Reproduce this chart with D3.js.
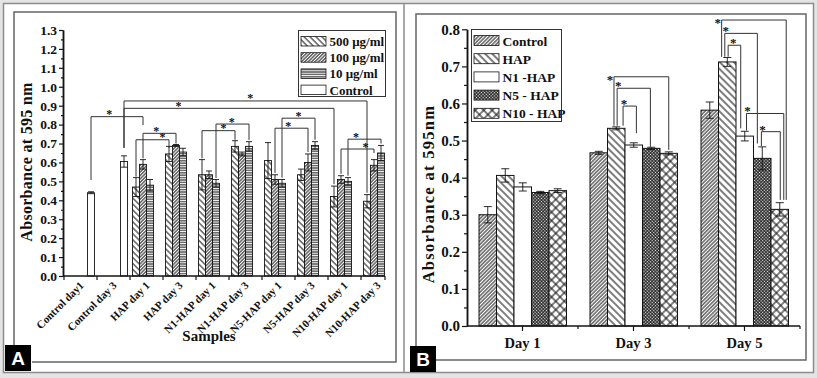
<!DOCTYPE html>
<html><head><meta charset="utf-8">
<script src="https://cdn.jsdelivr.net/npm/d3@7"></script>
<style>body{margin:0;background:#fff}text{font-family:"Liberation Serif","Times New Roman",serif;font-weight:bold;fill:#111}</style>
</head><body>
<svg id="c" width="817" height="378"></svg>
<script>
// ---------- Panel A data ----------
const catsA = ["Control day1","Control day 3","HAP day 1","HAP day 3","N1-HAP day 1","N1-HAP day 3","N5-HAP day 1","N5-HAP day 3","N10-HAP day 1","N10-HAP day 3"];
const seriesA = ["500 μg/ml","100 μg/ml","10 μg/ml","Control"];
const valsA500 = [null,null,0.47,0.645,0.535,0.685,0.61,0.535,0.42,0.395];
const errA500  = [0,0,0.05,0.04,0.08,0.03,0.095,0.03,0.055,0.035];
const valsA100 = [null,null,0.59,0.69,0.535,0.645,0.51,0.60,0.51,0.585];
const errA100  = [0,0,0.025,0.005,0.02,0.01,0.025,0.045,0.02,0.03];
const valsA10  = [null,null,0.48,0.655,0.49,0.685,0.49,0.69,0.50,0.65];
const errA10   = [0,0,0.03,0.02,0.02,0.025,0.02,0.02,0.02,0.04];
const valsACtrl = [0.44,0.605,null,null,null,null,null,null,null,null];
const errACtrl  = [0.005,0.03,0,0,0,0,0,0,0,0];
const ticksA = [0,0.1,0.2,0.3,0.4,0.5,0.6,0.7,0.8,0.9,1.0,1.1,1.2,1.3];
// significance brackets: from cat/series -> to cat/series, left end, level, right end, star fraction
const bracketsA = [
  ["Control day1","Control","HAP day 1","100 μg/ml",0.507,0.842,0.798,0.35],
  ["Control day 3","Control","N10-HAP day 3","500 μg/ml",0.677,0.925,0.44,0.52],
  ["Control day 3","Control","N10-HAP day 1","500 μg/ml",0.677,0.886,0.485,0.26],
  ["HAP day 1","100 μg/ml","HAP day 3","100 μg/ml",0.622,0.754,0.70,0.40],
  ["HAP day 1","500 μg/ml","HAP day 3","500 μg/ml",0.525,0.72,0.677,0.80],
  ["N1-HAP day 1","10 μg/ml","N1-HAP day 3","10 μg/ml",0.518,0.803,0.719,0.48],
  ["N1-HAP day 1","500 μg/ml","N1-HAP day 3","500 μg/ml",0.622,0.768,0.72,0.65],
  ["N5-HAP day 1","10 μg/ml","N5-HAP day 3","10 μg/ml",0.52,0.834,0.72,0.50],
  ["N5-HAP day 1","100 μg/ml","N5-HAP day 3","100 μg/ml",0.545,0.781,0.655,0.40],
  ["N10-HAP day 1","10 μg/ml","N10-HAP day 3","10 μg/ml",0.53,0.723,0.70,0.24],
  ["N10-HAP day 1","100 μg/ml","N10-HAP day 3","100 μg/ml",0.54,0.671,0.65,0.74]
];

// ---------- Panel B data ----------
const daysB = ["Day 1","Day 3","Day 5"];
const seriesB = ["Control","HAP","N1 -HAP","N5 - HAP","N10 - HAP"];
const valsBCtrl = [0.30,0.467,0.582];
const errBCtrl  = [0.022,0.004,0.022];
const valsBHAP  = [0.406,0.533,0.712];
const errBHAP   = [0.018,0.004,0.012];
const valsBN1   = [0.375,0.488,0.512];
const errBN1    = [0.011,0.006,0.013];
const valsBN5   = [0.36,0.479,0.452];
const errBN5    = [0.003,0.003,0.031];
const valsBN10  = [0.365,0.4655,0.3145];
const errBN10   = [0.005,0.004,0.018];
const ticksB = [0,0.1,0.2,0.3,0.4,0.5,0.6,0.7,0.8];
// day, from series, from fraction in bar, to series, to fraction, left end, level, right end, star placement
const bracketsB = [
  ["Day 3","HAP",0.37,"N10 - HAP",0.5,0.54,0.672,0.475,"left"],
  ["Day 3","HAP",0.55,"N5 - HAP",0.45,0.54,0.641,0.483,"top"],
  ["Day 3","HAP",0.89,"N1 -HAP",0.65,0.54,0.593,0.52,"top"],
  ["Day 5","HAP",0.18,"N10 - HAP",0.87,0.726,0.825,0.34,"left"],
  ["Day 5","HAP",0.36,"N5 - HAP",0.22,0.726,0.789,0.492,"top"],
  ["Day 5","HAP",0.55,"N1 -HAP",0.27,0.726,0.757,0.533,"right"],
  ["Day 5","N1 -HAP",0.6,"N10 - HAP",0.73,0.527,0.573,0.34,"top"],
  ["Day 5","N5 - HAP",0.45,"N10 - HAP",0.53,0.485,0.524,0.34,"top"]
];

// ---------- drawing ----------
const svg = d3.select("#c");
const ink = "#141414";
const defs = svg.append("defs");
function linePattern(id, spacing, angle, sw, cross){
  const p = defs.append("pattern").attr("id",id).attr("patternUnits","userSpaceOnUse")
    .attr("width",spacing).attr("height",spacing).attr("patternTransform",`rotate(${angle})`);
  p.append("rect").attr("width",spacing).attr("height",spacing).attr("fill","#fff");
  p.append("line").attr("x1",0).attr("y1",-1).attr("x2",0).attr("y2",spacing+1).attr("stroke",ink).attr("stroke-width",sw);
  p.append("line").attr("x1",spacing).attr("y1",-1).attr("x2",spacing).attr("y2",spacing+1).attr("stroke",ink).attr("stroke-width",sw);
  if(cross){
    p.append("line").attr("x1",-1).attr("y1",0).attr("x2",spacing+1).attr("y2",0).attr("stroke",ink).attr("stroke-width",sw);
    p.append("line").attr("x1",-1).attr("y1",spacing).attr("x2",spacing+1).attr("y2",spacing).attr("stroke",ink).attr("stroke-width",sw);
  }
}
linePattern("pA500",4.2,-45,1.0,false);
linePattern("pA100",2.4,45,1.0,false);
linePattern("pA10",2.4,90,1.0,false);
linePattern("pBctrl",2.6,45,1.0,false);
linePattern("pBhap",5.0,-45,1.1,false);
linePattern("pBn5",2.3,45,1.0,true);
linePattern("pBn10",6.0,45,1.1,true);
const fillA = {"500 μg/ml":"url(#pA500)","100 μg/ml":"url(#pA100)","10 μg/ml":"url(#pA10)","Control":"#fff"};
const fillB = {"Control":"url(#pBctrl)","HAP":"url(#pBhap)","N1 -HAP":"#fff","N5 - HAP":"url(#pBn5)","N10 - HAP":"url(#pBn10)"};

// background & frames
svg.append("rect").attr("width",817).attr("height",378).attr("fill","#e4e4e4");
svg.append("rect").attr("x",3.5).attr("y",3.5).attr("width",810).attr("height",369).attr("fill","#fff").attr("stroke","#8c8c8c").attr("stroke-width",1.5);
svg.append("line").attr("x1",404).attr("x2",404).attr("y1",3.5).attr("y2",372.5).attr("stroke","#8c8c8c").attr("stroke-width",1.5);
svg.append("path").attr("d","M14,345V12H396V362H32").attr("fill","none").attr("stroke","#666").attr("stroke-width",1.5);
svg.append("path").attr("d","M416,346V14H806V360H434").attr("fill","none").attr("stroke","#666").attr("stroke-width",1.5);
[[5,345,"A"],[410,346,"B"]].forEach(([x,y,t])=>{
  svg.append("rect").attr("x",x).attr("y",y).attr("width",26).attr("height",26).attr("fill","#000");
  svg.append("text").attr("x",x+13).attr("y",y+20).attr("text-anchor","middle")
    .style("font-family","Liberation Sans, Arial, sans-serif").style("font-size","19px").style("fill","#fff").text(t);
});

// ===== Panel A =====
const yA = d3.scaleLinear().domain([0,1.3]).range([276,30]);
const xA = d3.scaleBand().domain(catsA).range([64,394]);
const xSubA = d3.scaleBand().domain(seriesA).range([2.5,30.5]);
const gA = svg.append("g");
const rowsA = [];
const seriesValsA = [[valsA500,errA500],[valsA100,errA100],[valsA10,errA10],[valsACtrl,errACtrl]];
seriesA.forEach((s,si)=>catsA.forEach((c,ci)=>{
  const v = seriesValsA[si][0][ci];
  if(v!=null) rowsA.push({c,s,v,e:seriesValsA[si][1][ci]});
}));
gA.selectAll("rect.bar").data(rowsA).join("rect").attr("class","bar")
  .attr("x",d=>xA(d.c)+xSubA(d.s)).attr("width",xSubA.bandwidth())
  .attr("y",d=>yA(d.v)).attr("height",d=>yA(0)-yA(d.v))
  .attr("fill",d=>fillA[d.s]).attr("stroke",ink).attr("stroke-width",0.9);
const errG = gA.selectAll("g.err").data(rowsA).join("g").attr("stroke",ink).attr("stroke-width",0.9);
errG.append("line").attr("x1",d=>xA(d.c)+xSubA(d.s)+xSubA.bandwidth()/2).attr("x2",d=>xA(d.c)+xSubA(d.s)+xSubA.bandwidth()/2)
  .attr("y1",d=>yA(d.v-d.e)).attr("y2",d=>yA(d.v+d.e));
[1,-1].forEach(sg=>errG.append("line")
  .attr("x1",d=>xA(d.c)+xSubA(d.s)+xSubA.bandwidth()/2-3).attr("x2",d=>xA(d.c)+xSubA(d.s)+xSubA.bandwidth()/2+3)
  .attr("y1",d=>yA(d.v+sg*d.e)).attr("y2",d=>yA(d.v+sg*d.e)));
// axes A
const axA = gA.append("g").attr("transform","translate(63,0)")
  .call(d3.axisLeft(yA).tickValues(ticksA).tickFormat(d3.format(".1f")).tickSize(4).tickSizeOuter(0).tickPadding(2));
gA.append("g").attr("transform","translate(63,0)")
  .call(d3.axisLeft(yA).tickValues(ticksA.slice(1).map(t=>t-0.05)).tickFormat("").tickSize(2).tickSizeOuter(0));
gA.selectAll(".domain").attr("stroke",ink).attr("stroke-width",1.5);
gA.selectAll(".tick line").attr("stroke",ink).attr("stroke-width",1.2);
axA.selectAll("text").style("font-size","13.5px").style("font-family","Liberation Serif").style("font-weight","bold");
gA.append("line").attr("x1",63).attr("x2",385).attr("y1",yA(0)).attr("y2",yA(0)).attr("stroke",ink).attr("stroke-width",1.5);
const bndA = catsA.map(c=>xA(c)).concat([385]);
gA.selectAll("line.xt").data(bndA).join("line").attr("x1",d=>d).attr("x2",d=>d)
  .attr("y1",yA(0)).attr("y2",yA(0)+4).attr("stroke",ink).attr("stroke-width",1.2);
gA.selectAll("text.xl").data(catsA).join("text")
  .attr("transform",d=>`translate(${xA(d)+xA.bandwidth()/2+4},${yA(0)+10}) rotate(-45)`)
  .attr("text-anchor","end").style("font-size","11px").text(d=>d);
gA.append("text").attr("x",209).attr("y",341).attr("text-anchor","middle").style("font-size","15px").text("Samples");
gA.append("text").attr("transform","translate(32,162) rotate(-90)").attr("text-anchor","middle")
  .style("font-size","16px").style("letter-spacing","0.3px").text("Absorbance at 595 nm");
// brackets A
const bxA = (c,s)=>xA(c)+xSubA(s)+xSubA.bandwidth()/2;
const brA = gA.selectAll("g.br").data(bracketsA).join("g");
brA.append("path").attr("fill","none").attr("stroke","#333").attr("stroke-width",1)
  .attr("d",d=>`M${bxA(d[0],d[1])},${yA(d[4])}V${yA(d[5])}H${bxA(d[2],d[3])}V${yA(d[6])}`);
brA.append("text").attr("text-anchor","middle").style("font-size","12px")
  .attr("x",d=>bxA(d[0],d[1])+(bxA(d[2],d[3])-bxA(d[0],d[1]))*d[7]).attr("y",d=>yA(d[5])+1.5).text("*");
// legend A
const lgA = gA.append("g");
lgA.append("rect").attr("x",298.5).attr("y",30.5).attr("width",87).attr("height",66).attr("fill","#fff").attr("stroke","#333").attr("stroke-width",1);
seriesA.forEach((s,i)=>{
  const y = 36.5+i*16.2;
  lgA.append("rect").attr("x",301).attr("y",y).attr("width",25).attr("height",9.5).attr("fill",fillA[s]).attr("stroke",ink).attr("stroke-width",0.8);
  lgA.append("text").attr("x",329.5).attr("y",y+9.5).style("font-size","13px").text(s);
});

// ===== Panel B =====
const yB = d3.scaleLinear().domain([0,0.8]).range([326,29.3]);
const xB = d3.scaleBand().domain(daysB).range([467,800]);
const xSubB = d3.scaleBand().domain(seriesB).range([12,99.5]);
const gB = svg.append("g");
const seriesValsB = [[valsBCtrl,errBCtrl],[valsBHAP,errBHAP],[valsBN1,errBN1],[valsBN5,errBN5],[valsBN10,errBN10]];
const rowsB = [];
seriesB.forEach((s,si)=>daysB.forEach((c,ci)=>rowsB.push({c,s,v:seriesValsB[si][0][ci],e:seriesValsB[si][1][ci]})));
gB.selectAll("rect.bar").data(rowsB).join("rect").attr("class","bar")
  .attr("x",d=>xB(d.c)+xSubB(d.s)).attr("width",xSubB.bandwidth())
  .attr("y",d=>yB(d.v)).attr("height",d=>yB(0)-yB(d.v))
  .attr("fill",d=>fillB[d.s]).attr("stroke",ink).attr("stroke-width",1);
const errGB = gB.selectAll("g.err").data(rowsB).join("g").attr("stroke",ink).attr("stroke-width",0.9);
errGB.append("line").attr("x1",d=>xB(d.c)+xSubB(d.s)+xSubB.bandwidth()/2).attr("x2",d=>xB(d.c)+xSubB(d.s)+xSubB.bandwidth()/2)
  .attr("y1",d=>yB(d.v-d.e)).attr("y2",d=>yB(d.v+d.e));
[1,-1].forEach(sg=>errGB.append("line")
  .attr("x1",d=>xB(d.c)+xSubB(d.s)+xSubB.bandwidth()/2-4).attr("x2",d=>xB(d.c)+xSubB(d.s)+xSubB.bandwidth()/2+4)
  .attr("y1",d=>yB(d.v+sg*d.e)).attr("y2",d=>yB(d.v+sg*d.e)));
const axB = gB.append("g").attr("transform","translate(467,0)")
  .call(d3.axisLeft(yB).tickValues(ticksB).tickFormat(d3.format(".1f")).tickSize(5).tickSizeOuter(0).tickPadding(2));
gB.append("g").attr("transform","translate(467,0)")
  .call(d3.axisLeft(yB).tickValues(ticksB.slice(1).map(t=>t-0.05)).tickFormat("").tickSize(3).tickSizeOuter(0));
gB.selectAll(".domain").attr("stroke",ink).attr("stroke-width",1.5);
gB.selectAll(".tick line").attr("stroke",ink).attr("stroke-width",1.2);
axB.selectAll("text").style("font-size","15px").style("font-family","Liberation Serif").style("font-weight","bold");
gB.append("line").attr("x1",467).attr("x2",800).attr("y1",yB(0)).attr("y2",yB(0)).attr("stroke",ink).attr("stroke-width",1.5);
gB.selectAll("line.xm").data(daysB).join("line").attr("x1",d=>xB(d)+xB.bandwidth()/2).attr("x2",d=>xB(d)+xB.bandwidth()/2)
  .attr("y1",yB(0)).attr("y2",yB(0)+5).attr("stroke",ink).attr("stroke-width",1.2);
gB.selectAll("line.xn").data(daysB.slice(1).map(d=>xB(d)).concat([800])).join("line").attr("x1",d=>d).attr("x2",d=>d)
  .attr("y1",yB(0)).attr("y2",yB(0)+3).attr("stroke",ink).attr("stroke-width",1.2);
gB.selectAll("text.xl").data(daysB).join("text").attr("x",d=>xB(d)+xB.bandwidth()/2).attr("y",348)
  .attr("text-anchor","middle").style("font-size","14.5px").text(d=>d);
gB.append("text").attr("transform","translate(434,194) rotate(-90)").attr("text-anchor","middle")
  .style("font-size","16.5px").style("letter-spacing","1.3px").text("Absorbance at 595nm");
// brackets B
const bxB = (c,s,f)=>xB(c)+xSubB(s)+xSubB.bandwidth()*f;
const starDx = {left:-4, top:1, right:5};
const brB = gB.selectAll("g.br").data(bracketsB).join("g");
brB.append("path").attr("fill","none").attr("stroke","#333").attr("stroke-width",1)
  .attr("d",d=>`M${bxB(d[0],d[1],d[2])},${yB(d[5])}V${yB(d[6])}H${bxB(d[0],d[3],d[4])}V${yB(d[7])}`);
brB.append("text").attr("text-anchor","middle").style("font-size","13px")
  .attr("x",d=>bxB(d[0],d[1],d[2])+starDx[d[8]]).attr("y",d=>yB(d[6])+(d[8]==="left"?7:2)).text("*");
// legend B
const lgB = gB.append("g");
lgB.append("rect").attr("x",471.5).attr("y",29.5).attr("width",90).attr("height",92).attr("fill","#fff").attr("stroke","#333").attr("stroke-width",1);
seriesB.forEach((s,i)=>{
  const y = 35.5+i*18.2;
  lgB.append("rect").attr("x",474).attr("y",y).attr("width",25).attr("height",10).attr("fill",fillB[s]).attr("stroke",ink).attr("stroke-width",0.8);
  lgB.append("text").attr("x",502.5).attr("y",y+10).style("font-size","13.5px").text(s);
});
</script>
</body></html>
